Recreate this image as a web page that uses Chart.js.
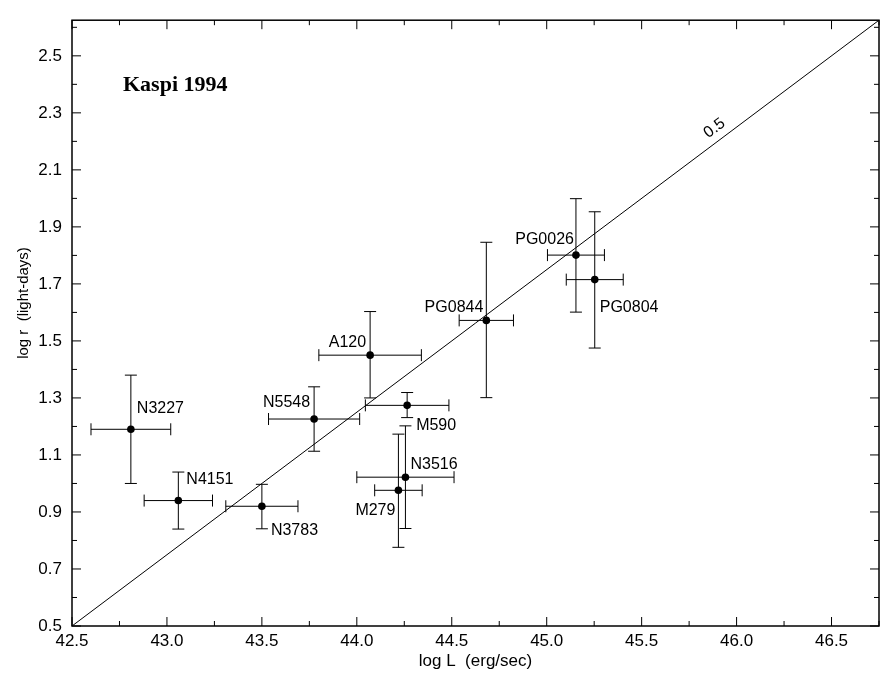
<!DOCTYPE html>
<html>
<head>
<meta charset="utf-8">
<script src="https://cdn.jsdelivr.net/npm/chart.js@4/dist/chart.umd.min.js"></script>
<style>
  html, body { margin: 0; padding: 0; background: #fff; }
  #wrap { width: 883px; height: 677px; }
</style>
</head>
<body>
<div id="wrap"><canvas id="c" width="883" height="677"></canvas></div>
<script>
// ---- data ----
const names     = ['N3227','N4151','N3783','N5548','A120','M590','N3516','M279','PG0844','PG0026','PG0804'];
const logL      = [42.81, 43.06, 43.50, 43.775, 44.07, 44.265, 44.256, 44.219, 44.682, 45.154, 45.253];
const logR      = [1.19, 0.94, 0.92, 1.226, 1.45, 1.274, 1.022, 0.976, 1.572, 1.801, 1.715];
const xErrMinus = [0.21, 0.18, 0.19, 0.24, 0.27, 0.22, 0.256, 0.125, 0.143, 0.15, 0.15];
const xErrPlus  = [0.21, 0.18, 0.19, 0.24, 0.27, 0.22, 0.256, 0.125, 0.143, 0.15, 0.15];
const yErrPlus  = [0.19, 0.10, 0.077, 0.113, 0.153, 0.045, 0.18, 0.197, 0.274, 0.198, 0.238];
const yErrMinus = [0.19, 0.10, 0.079, 0.113, 0.15, 0.043, 0.18, 0.20, 0.271, 0.20, 0.24];
const fitX      = [42.5, 46.75];
const fitY      = [0.5, 2.625];
const fitLabel  = '0.5';
const xTicks    = [42.5, 43.0, 43.5, 44.0, 44.5, 45.0, 45.5, 46.0, 46.5];
const yTicks    = [0.5, 0.7, 0.9, 1.1, 1.3, 1.5, 1.7, 1.9, 2.1, 2.3, 2.5];
const xMinorTicks = [42.75, 43.25, 43.75, 44.25, 44.75, 45.25, 45.75, 46.25, 46.75];
const yMinorTicks = [0.6, 0.8, 1.0, 1.2, 1.4, 1.6, 1.8, 2.0, 2.2, 2.4, 2.6];
const xTitle = 'log L  (erg/sec)';
const yTitle = 'log r  (light-days)';
const panelTitle = 'Kaspi 1994';

// ---- label placement (style, not data): [dx, dy, align] relative to point ----
const labelPlace = [
  [6, -16, 'left'], [8, -17, 'left'], [9, 29, 'left'], [-4, -12, 'right'],
  [-4, -8, 'right'], [9, 25, 'left'], [5, -8, 'left'], [-3, 25, 'right'],
  [-3, -8, 'right'], [-2, -11, 'right'], [5, 32, 'left']
];

Chart.defaults.font.family = "'Liberation Sans', Arial, Helvetica, sans-serif";
Chart.defaults.color = '#000';

const overlay = {
  id: 'overlay',
  beforeDatasetsDraw(chart) {
    const ctx = chart.ctx, xs = chart.scales.x, ys = chart.scales.y;
    ctx.save();
    ctx.strokeStyle = '#000';
    ctx.lineWidth = 1;
    const cap = 6;
    for (let i = 0; i < logL.length; i++) {
      const px = xs.getPixelForValue(logL[i]);
      const py = ys.getPixelForValue(logR[i]);
      const x0 = xs.getPixelForValue(logL[i] - xErrMinus[i]);
      const x1 = xs.getPixelForValue(logL[i] + xErrPlus[i]);
      const y0 = ys.getPixelForValue(logR[i] + yErrPlus[i]);
      const y1 = ys.getPixelForValue(logR[i] - yErrMinus[i]);
      ctx.beginPath();
      ctx.moveTo(x0, py); ctx.lineTo(x1, py);
      ctx.moveTo(x0, py - cap); ctx.lineTo(x0, py + cap);
      ctx.moveTo(x1, py - cap); ctx.lineTo(x1, py + cap);
      ctx.moveTo(px, y0); ctx.lineTo(px, y1);
      ctx.moveTo(px - cap, y0); ctx.lineTo(px + cap, y0);
      ctx.moveTo(px - cap, y1); ctx.lineTo(px + cap, y1);
      ctx.stroke();
    }
    ctx.restore();
  },
  afterDraw(chart) {
    const ctx = chart.ctx, xs = chart.scales.x, ys = chart.scales.y;
    const a = chart.chartArea;
    ctx.save();
    // frame
    ctx.strokeStyle = '#000';
    ctx.lineWidth = 1.5;
    ctx.strokeRect(a.left, a.top, a.right - a.left, a.bottom - a.top);
    // ticks (inward, all four sides)
    ctx.lineWidth = 1;
    ctx.beginPath();
    const tx = (v, len) => {
      const p = xs.getPixelForValue(v);
      ctx.moveTo(p, a.bottom); ctx.lineTo(p, a.bottom - len);
      ctx.moveTo(p, a.top); ctx.lineTo(p, a.top + len);
    };
    const ty = (v, len) => {
      const p = ys.getPixelForValue(v);
      ctx.moveTo(a.left, p); ctx.lineTo(a.left + len, p);
      ctx.moveTo(a.right, p); ctx.lineTo(a.right - len, p);
    };
    xTicks.forEach(v => tx(v, 9));
    xMinorTicks.forEach(v => tx(v, 5));
    yTicks.forEach(v => ty(v, 9));
    yMinorTicks.forEach(v => ty(v, 5));
    ctx.stroke();

    // point labels
    ctx.fillStyle = '#000';
    ctx.font = "16px 'Liberation Sans', Arial, sans-serif";
    ctx.textBaseline = 'alphabetic';
    for (let i = 0; i < names.length; i++) {
      const px = xs.getPixelForValue(logL[i]);
      const py = ys.getPixelForValue(logR[i]);
      const [dx, dy, al] = labelPlace[i];
      ctx.textAlign = al;
      ctx.fillText(names[i], px + dx, py + dy);
    }

    // slope label along the line
    ctx.save();
    const lx = xs.getPixelForValue(45.9), ly = ys.getPixelForValue(2.2);
    ctx.translate(lx - 3, ly - 13);
    const ang = Math.atan2(ys.getPixelForValue(fitY[1]) - ys.getPixelForValue(fitY[0]),
                           xs.getPixelForValue(fitX[1]) - xs.getPixelForValue(fitX[0]));
    ctx.rotate(ang);
    ctx.textAlign = 'center';
    ctx.textBaseline = 'middle';
    ctx.font = "16px 'Liberation Sans', Arial, sans-serif";
    ctx.fillText(fitLabel, 0, 0);
    ctx.restore();

    // panel title
    ctx.font = "bold 22px 'Liberation Serif', 'Times New Roman', serif";
    ctx.textAlign = 'left';
    ctx.textBaseline = 'alphabetic';
    ctx.fillText(panelTitle, 123, 91);

    // axis titles
    ctx.font = "17px 'Liberation Sans', Arial, sans-serif";
    ctx.textAlign = 'center';
    ctx.textBaseline = 'middle';
    ctx.fillText(xTitle, (a.left + a.right) / 2, 661);
    ctx.save();
    ctx.translate(24, 303);
    ctx.rotate(-Math.PI / 2);
    ctx.font = "15px 'Liberation Sans', Arial, sans-serif";
    ctx.fillText(yTitle, 0, 0);
    ctx.restore();

    ctx.restore();
  }
};

new Chart(document.getElementById('c'), {
  type: 'scatter',
  data: {
    datasets: [
      {
        type: 'line',
        data: fitX.map((x, i) => ({ x, y: fitY[i] })),
        borderColor: '#000',
        borderWidth: 1,
        pointRadius: 0,
        fill: false,
        order: 2
      },
      {
        data: logL.map((x, i) => ({ x, y: logR[i] })),
        backgroundColor: '#000',
        borderColor: '#000',
        pointRadius: 3.8,
        pointBorderWidth: 0,
        order: 1
      }
    ]
  },
  options: {
    responsive: false,
    animation: false,
    events: [],
    layout: { padding: { top: 7, right: 4, left: 0, bottom: 0 } },
    plugins: { legend: { display: false }, tooltip: { enabled: false } },
    scales: {
      x: {
        type: 'linear',
        min: 42.5, max: 46.75,
        grid: { display: false, drawTicks: false },
        border: { display: false },
        afterBuildTicks: s => { s.ticks = xTicks.map(v => ({ value: v })); },
        afterFit: s => { s.height = 51; },
        ticks: {
          autoSkip: false, maxRotation: 0, minRotation: 0,
          padding: 5, color: '#000',
          font: { size: 17 },
          callback: v => Number(v).toFixed(1)
        }
      },
      y: {
        type: 'linear',
        min: 0.5, max: 2.625,
        grid: { display: false, drawTicks: false },
        border: { display: false },
        afterBuildTicks: s => { s.ticks = yTicks.map(v => ({ value: v })); },
        afterFit: s => { s.width = 72; },
        ticks: {
          autoSkip: false, padding: 10, color: '#000',
          font: { size: 17 },
          callback: v => Number(v).toFixed(1)
        }
      }
    }
  },
  plugins: [overlay]
});
</script>
</body>
</html>
